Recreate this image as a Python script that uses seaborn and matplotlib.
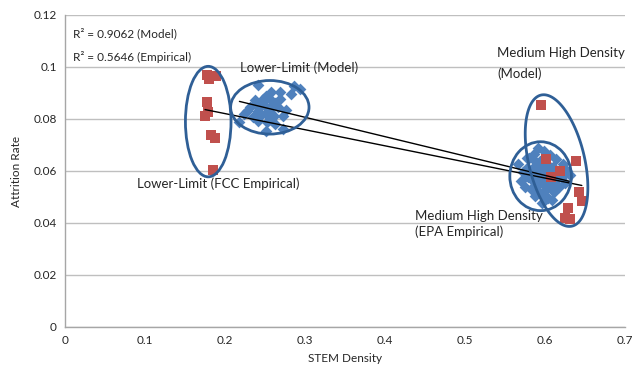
import numpy as np
import pandas as pd
import matplotlib
matplotlib.use("Agg")
import matplotlib.pyplot as plt
import seaborn as sns
from matplotlib.patches import Ellipse, Polygon

# ---- data ----
model_x_low = [0.241, 0.286, 0.294, 0.282, 0.269, 0.257, 0.251, 0.247, 0.259, 0.269,
               0.237, 0.231, 0.241, 0.251, 0.261, 0.273, 0.251, 0.273, 0.263, 0.253,
               0.241, 0.235, 0.218, 0.224, 0.245, 0.255, 0.262, 0.248, 0.238, 0.266,
               0.256, 0.244, 0.276, 0.228, 0.258, 0.250]
model_y_low = [0.0929, 0.0925, 0.0916, 0.0897, 0.0903, 0.0903, 0.0890, 0.0877, 0.0871, 0.0877,
               0.0858, 0.0845, 0.0832, 0.0819, 0.0813, 0.0813, 0.0755, 0.0761, 0.0781, 0.0787,
               0.0794, 0.0806, 0.0787, 0.0819, 0.0852, 0.0840, 0.0860, 0.0865, 0.0872, 0.0845,
               0.0826, 0.0810, 0.0835, 0.0830, 0.0798, 0.0850]
model_x_high = [0.566, 0.570, 0.572, 0.575, 0.577, 0.579, 0.580, 0.582, 0.583, 0.585,
                0.586, 0.587, 0.588, 0.589, 0.590, 0.591, 0.592, 0.593, 0.594, 0.595,
                0.596, 0.597, 0.598, 0.599, 0.600, 0.601, 0.602, 0.603, 0.604, 0.605,
                0.606, 0.607, 0.608, 0.610, 0.611, 0.612, 0.614, 0.615, 0.617, 0.619,
                0.621, 0.623, 0.625, 0.628, 0.631, 0.584, 0.588, 0.596, 0.600, 0.592,
                0.598, 0.604, 0.609, 0.578]
model_y_high = [0.0625, 0.0560, 0.0595, 0.0540, 0.0610, 0.0575, 0.0650, 0.0530, 0.0600, 0.0560,
                0.0665, 0.0505, 0.0620, 0.0580, 0.0545, 0.0690, 0.0600, 0.0520, 0.0640, 0.0570,
                0.0475, 0.0610, 0.0550, 0.0675, 0.0590, 0.0530, 0.0625, 0.0565, 0.0495, 0.0600,
                0.0660, 0.0545, 0.0580, 0.0615, 0.0520, 0.0560, 0.0645, 0.0590, 0.0540, 0.0605,
                0.0575, 0.0625, 0.0555, 0.0600, 0.0585, 0.0595, 0.0640, 0.0620, 0.0555, 0.0565,
                0.0505, 0.0600, 0.0490, 0.0650]
emp_x = [0.178, 0.189, 0.180, 0.177, 0.179, 0.175, 0.182, 0.188, 0.185,
         0.595, 0.601, 0.639, 0.619, 0.608, 0.642, 0.646, 0.629, 0.625, 0.631]
emp_y = [0.0970, 0.0965, 0.0955, 0.0865, 0.0825, 0.0810, 0.0740, 0.0725, 0.0605,
         0.0855, 0.0647, 0.0637, 0.0601, 0.0577, 0.0521, 0.0483, 0.0458, 0.0419, 0.0415]

x_ticks = [0, 0.1, 0.2, 0.3, 0.4, 0.5, 0.6, 0.7]
y_ticks = [0, 0.02, 0.04, 0.06, 0.08, 0.1, 0.12]
x_tick_labels = ["0", "0.1", "0.2", "0.3", "0.4", "0.5", "0.6", "0.7"]
y_tick_labels = ["0", "0.02", "0.04", "0.06", "0.08", "0.1", "0.12"]

model_x = model_x_low + model_x_high
model_y = model_y_low + model_y_high
df = pd.DataFrame({
    "x": model_x + emp_x,
    "y": model_y + emp_y,
    "series": ["Model"] * len(model_x) + ["Empirical"] * len(emp_x),
})

BLUE = "#4F81BD"
RED = "#C0504D"
ELL = "#2F5F96"
FONT = ["Lato", "DejaVu Sans"]

sns.set_style("white")
plt.rcParams["font.family"] = FONT

fig = plt.figure(figsize=(6.4, 3.72), dpi=100)
ax = fig.add_axes([0.1016, 0.121, 0.875, 0.8387])

sns.scatterplot(data=df[df.series == "Model"], x="x", y="y", marker="D", s=36,
                color=BLUE, edgecolor=BLUE, linewidth=0, ax=ax, zorder=3, legend=False)
sns.scatterplot(data=df[df.series == "Empirical"], x="x", y="y", marker="s", s=56,
                color=RED, edgecolor=RED, linewidth=0, ax=ax, zorder=4, legend=False)

# linear trendlines
for xs, ys in [(model_x, model_y), (emp_x, emp_y)]:
    k, b = np.polyfit(xs, ys, 1)
    xx = np.array([min(xs), max(xs)])
    ax.plot(xx, k * xx + b, color="black", lw=1.0, zorder=5)

# ellipses (annotations)
for (cx, cy, w, h) in [(0.179, 0.0790, 0.057, 0.0425),
                       (0.256, 0.0845, 0.098, 0.0206),
                       (0.5945, 0.0580, 0.077, 0.0265)]:
    ax.add_patch(Ellipse((cx, cy), w, h, fill=False, edgecolor=ELL, lw=2.0, zorder=6))
t = np.linspace(0, 2 * np.pi, 200)
cx, cy = 0.6144, 0.0640
a = np.array([-0.0194, 0.0252])
bvec = np.array([0.0340, 0.00246])
pts = np.column_stack([cx + a[0] * np.cos(t) + bvec[0] * np.sin(t),
                       cy + a[1] * np.cos(t) + bvec[1] * np.sin(t)])
ax.add_patch(Polygon(pts, closed=True, fill=False, edgecolor=ELL, lw=2.0, zorder=6))

fs = 9.5
ax.text(0.010, 0.1130, "R² = 0.9062 (Model)", fontsize=8.5, va="center", family=FONT)
ax.text(0.010, 0.1037, "R² = 0.5646 (Empirical)", fontsize=8.5, va="center", family=FONT)
ax.text(0.219, 0.0997, "Lower-Limit (Model)", fontsize=fs, va="center", family=FONT)
ax.text(0.090, 0.0551, "Lower-Limit (FCC Empirical)", fontsize=fs, va="center", family=FONT)
ax.text(0.540, 0.1013, "Medium High Density\n(Model)", fontsize=fs, va="center",
        linespacing=1.85, family=FONT)
ax.text(0.438, 0.0397, "Medium High Density\n(EPA Empirical)", fontsize=fs, va="center",
        linespacing=1.3, family=FONT)

ax.set_xlim(0, 0.7)
ax.set_ylim(0, 0.12)
ax.set_xticks(x_ticks)
ax.set_xticklabels(x_tick_labels)
ax.set_yticks(y_ticks)
ax.set_yticklabels(y_tick_labels)
ax.tick_params(axis="both", length=0, labelsize=8.5, pad=6)
ax.yaxis.grid(True, color="#BFBFBF", lw=1)
ax.xaxis.grid(False)
ax.set_axisbelow(True)
for sp in ["top", "right"]:
    ax.spines[sp].set_visible(False)
for sp in ["left", "bottom"]:
    ax.spines[sp].set_color("#A6A6A6")
    ax.spines[sp].set_linewidth(1)
ax.set_xlabel("STEM Density", fontsize=8.5, labelpad=5)
ax.set_ylabel("Attrition Rate", fontsize=8.5, labelpad=8)

fig.savefig("out.png", dpi=100)
